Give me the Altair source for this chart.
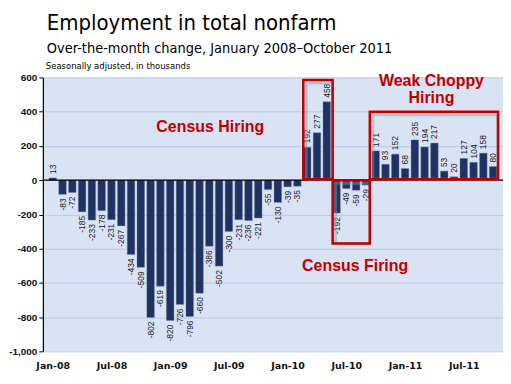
import altair as alt
import pandas as pd

# Monthly over-the-month change, Jan 2008 - Oct 2011 (thousands)
values = [
    13, -83, -72, -185, -233, -178, -231, -267, -434, -509, -802, -619,
    -820, -726, -796, -660, -386, -502, -300, -231, -236, -221, -55, -130,
    -39, -35, 192, 277, 458, -192, -49, -59, -29, 171, 93, 152,
    68, 235, 194, 217, 53, 20, 127, 104, 158, 80,
]
tick_labels = ["Jan-08", "Jul-08", "Jan-09", "Jul-09", "Jan-10", "Jul-10", "Jan-11", "Jul-11"]
y_ticks = [-1000, -800, -600, -400, -200, 0, 200, 400, 600]

# annotation boxes (month index / value units)
box_x = [25.6, 28.6, 32.4]
box_x2 = [28.6, 32.4, 45.5]
box_y = [585, 0, 400]
box_y2 = [5, -370, 5]

note_text = ["Census Hiring", "Weak Choppy|Hiring", "Census Firing"]
note_x = [16.1, 38.7, 30.9]
note_y = [284, 553, -533]

df = pd.DataFrame({"idx": list(range(len(values))), "value": values})
df["label"] = df["value"].astype(str)
boxes = pd.DataFrame({"x": box_x, "x2": box_x2, "y": box_y, "y2": box_y2})
notes = pd.DataFrame({"x": note_x, "y": note_y, "text": note_text})

label_expr = "[" + ",".join("'%s'" % t for t in tick_labels) + "][datum.value/6]"
y_label_expr = "replace(format(datum.value, ',.0f'), '\u2212', '-')"

xscale = alt.Scale(domain=[-0.5, 45.5], nice=False, zero=False)
yscale = alt.Scale(domain=[-1000, 600], nice=False)

x_axis = alt.Axis(values=[0, 6, 12, 18, 24, 30, 36, 42], labelExpr=label_expr,
                  title=None, grid=False, domain=False, ticks=False,
                  labelOverlap=False,
                  labelFont="DejaVu Sans", labelFontWeight="bold", labelFontSize=9.5,
                  labelColor="#111111", labelPadding=9)
y_axis = alt.Axis(values=y_ticks, labelExpr=y_label_expr, title=None, grid=True,
                  gridColor="#b9c9e8", gridWidth=1, domain=True, domainColor="#000000",
                  domainWidth=1.2, ticks=True, tickColor="#000000", tickSize=4,
                  labelOverlap=False, labelFlush=False,
                  labelFont="Liberation Sans", labelFontWeight="bold", labelFontSize=10,
                  labelColor="#111111", labelPadding=2)

X = lambda f: alt.X(f, scale=xscale, axis=x_axis)
Y = lambda f: alt.Y(f, scale=yscale, axis=y_axis)

base = alt.Chart(df)

bars = base.mark_bar(size=7.6, color="#1f3263", stroke="#7d879c", strokeWidth=0.4).encode(
    x=X("idx:Q"), y=Y("value:Q"), y2=alt.datum(0),
)

zero = alt.Chart(pd.DataFrame({"value": [0]})).mark_rule(color="#000000", strokeWidth=1.2).encode(
    y=Y("value:Q")
)

pos_labels = base.transform_filter("datum.value >= 0").mark_text(
    angle=270, align="left", baseline="middle", dx=4, fontSize=8.5,
    font="Liberation Sans", color="#1a1a2a"
).encode(x=X("idx:Q"), y=Y("value:Q"), text="label:N")

neg_labels = base.transform_filter("datum.value < 0").mark_text(
    angle=270, align="right", baseline="middle", dx=-4, fontSize=8.5,
    font="Liberation Sans", color="#1a1a2a"
).encode(x=X("idx:Q"), y=Y("value:Q"), text="label:N")

shadow = alt.Chart(boxes).mark_rect(filled=False, stroke="#8e97a8", strokeWidth=3,
                                     strokeOpacity=0.45, xOffset=3, yOffset=3).encode(
    x=X("x:Q"), x2="x2:Q", y=Y("y:Q"), y2="y2:Q",
)
rects = alt.Chart(boxes).mark_rect(filled=False, stroke="#c00000", strokeWidth=2.5).encode(
    x=X("x:Q"), x2="x2:Q", y=Y("y:Q"), y2="y2:Q",
)

texts = alt.Chart(notes).mark_text(
    font="Liberation Sans", fontWeight="bold", fontSize=16, color="#c00000",
    align="center", baseline="alphabetic", lineBreak="|", lineHeight=18
).encode(x=X("x:Q"), y=Y("y:Q"), text="text:N")

sub2 = alt.Chart(pd.DataFrame({"t": ["Seasonally adjusted, in thousands"]})).mark_text(
    align="left", baseline="alphabetic", font="DejaVu Sans", fontSize=8.5, color="#000000"
).encode(x=alt.value(3), y=alt.value(-9), text="t:N")

chart = alt.layer(bars, zero, pos_labels, neg_labels, shadow, rects, texts, sub2).properties(
    width=462, height=275,
    autosize=alt.AutoSizeParams(type="none"),
    padding={"left": 35, "top": 69, "right": 0, "bottom": 25},
    background="#ffffff",
    title=alt.TitleParams(
        text="Employment in total nonfarm",
        subtitle=["Over-the-month change, January 2008\u2013October 2011"],
        anchor="start", frame="group", dx=4, offset=5,
        font="DejaVu Sans Condensed", fontSize=22, fontWeight="normal", color="#000000",
        subtitleFont="DejaVu Sans Condensed", subtitleFontSize=14.5, subtitleColor="#000000",
        subtitlePadding=7,
    ),
).configure_view(fill="#dae3f3", stroke=None)

chart.save("out.html", embed_options={"renderer": "svg", "actions": False})
